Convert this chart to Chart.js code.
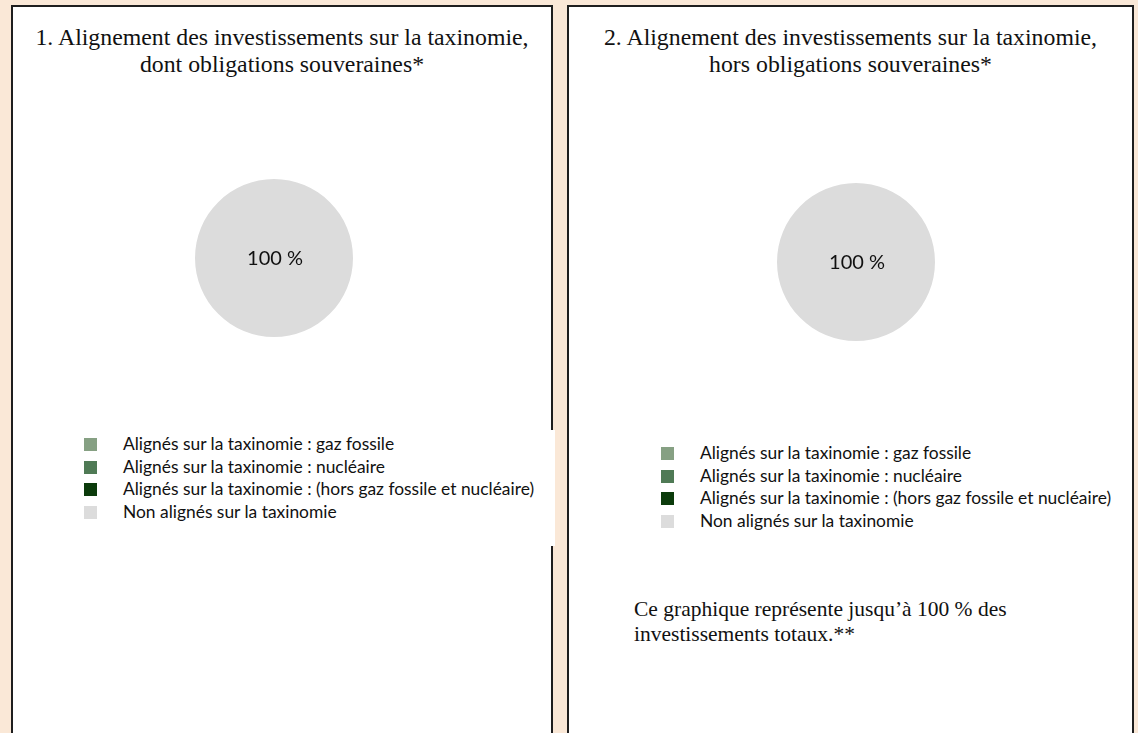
<!DOCTYPE html>
<html lang="fr">
<head>
<meta charset="utf-8">
<title>Alignement des investissements sur la taxinomie</title>
<script src="https://cdn.jsdelivr.net/npm/chart.js@4"></script>
<style>
  html, body { margin: 0; padding: 0; }
  body { width: 1138px; height: 733px; background: #fae8d7; position: relative; overflow: hidden; }
  .panel { position: absolute; top: 5px; height: 760px; background: #fff;
           border: 2px solid #1e1e1e; border-bottom: none; box-sizing: border-box; }
  .title { position: absolute; left: 0; right: 0; top: 17px; text-align: center;
           font-family: "Liberation Serif", "Times New Roman", serif; font-size: 23.8px; line-height: 27px; color: #111; }
  .pie { position: absolute; }
  .legend { position: absolute; font-family: Lato, "Open Sans", sans-serif; font-size: 17.4px; color: #111; }
  .legend div { height: 22.5px; line-height: 22.5px; white-space: nowrap; position: relative; padding-left: 39px; }
  .legend span { position: absolute; left: 0; top: 5px; width: 13px; height: 13px; }
  .note { position: absolute; font-family: "Liberation Serif", "Times New Roman", serif; font-size: 21.5px; line-height: 25px; color: #111; }
  .patch { position: absolute; background: #fff; }
</style>
</head>
<body>
<div class="panel" id="p1" style="left:11px; width:542px;">
  <div class="title">1. Alignement des investissements sur la taxinomie,<br>dont obligations souveraines*</div>
  <canvas class="pie" id="c1" width="162" height="162" style="left:180px; top:170px;"></canvas>
  <div class="legend" id="l1" style="left:71px; top:426px;"></div>
</div>
<div class="patch" style="left:549px; top:430px; width:6px; height:116px;"></div>
<div class="panel" id="p2" style="left:567px; width:567px;">
  <div class="title">2. Alignement des investissements sur la taxinomie,<br>hors obligations souveraines*</div>
  <canvas class="pie" id="c2" width="162" height="162" style="left:206px; top:174px;"></canvas>
  <div class="legend" id="l2" style="left:92px; top:435px;"></div>
  <div class="note" style="left:65px; top:590px;">Ce graphique représente jusqu’à 100 % des<br>investissements totaux.**</div>
</div>
<script>
const categories = [
  'Alignés sur la taxinomie : gaz fossile',
  'Alignés sur la taxinomie : nucléaire',
  'Alignés sur la taxinomie : (hors gaz fossile et nucléaire)',
  'Non alignés sur la taxinomie'
];
const colors = ['#86a083', '#4f7a55', '#0b3b0b', '#dcdcdc'];
const withSovereign = [0, 0, 0, 100];
const withoutSovereign = [0, 0, 0, 100];

// write "100 %" on each non-empty slice
const sliceLabels = {
  id: 'sliceLabels',
  afterDatasetsDraw(chart) {
    const ctx = chart.ctx;
    const ds = chart.data.datasets[0];
    const total = ds.data.reduce((a, b) => a + b, 0);
    const meta = chart.getDatasetMeta(0);
    ctx.save();
    ctx.font = '20px Lato, "Open Sans", sans-serif';
    ctx.fillStyle = '#111';
    ctx.textAlign = 'center';
    ctx.textBaseline = 'middle';
    meta.data.forEach((arc, i) => {
      const v = ds.data[i];
      if (!v) return;
      let p = arc.tooltipPosition();
      if (v === total) p = { x: arc.x + 1, y: arc.y + 1 };
      ctx.fillText(Math.round(v / total * 100) + ' %', p.x, p.y);
    });
    ctx.restore();
  }
};

function drawPie(id, values) {
  new Chart(document.getElementById(id), {
    type: 'pie',
    data: {
      labels: categories,
      datasets: [{ data: values, backgroundColor: colors, borderWidth: 0 }]
    },
    options: {
      responsive: false,
      animation: false,
      layout: { padding: 2 },
      plugins: { legend: { display: false }, tooltip: { enabled: false } }
    },
    plugins: [sliceLabels]
  });
}

function drawLegend(id) {
  const box = document.getElementById(id);
  categories.forEach((c, i) => {
    const row = document.createElement('div');
    const sw = document.createElement('span');
    sw.style.background = colors[i];
    row.appendChild(sw);
    row.appendChild(document.createTextNode(c));
    box.appendChild(row);
  });
}

drawPie('c1', withSovereign);
drawPie('c2', withoutSovereign);
drawLegend('l1');
drawLegend('l2');
</script>
</body>
</html>
